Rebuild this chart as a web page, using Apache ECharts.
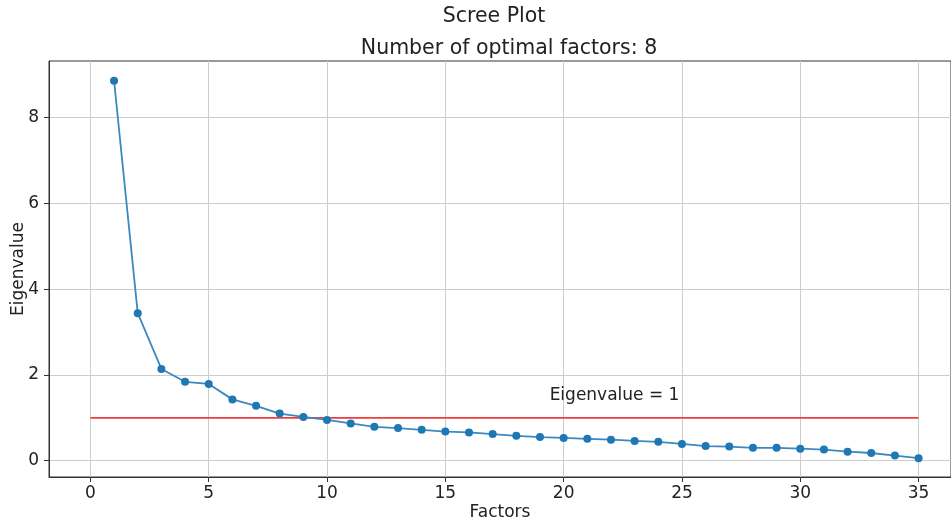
<!DOCTYPE html>
<html>
  <head>
    <meta charset="UTF-8" />
    <script src="https://cdn.jsdelivr.net/npm/echarts@6/dist/echarts.min.js"></script>
  </head>
  <body style="margin:0">
    <div id="main" style="width:951px;height:522px"></div>
    <script>
      const factors = [];
      for (let i = 1; i <= 35; i++) factors.push(i);
      const eigenvalues = [
        8.86, 3.44, 2.14, 1.84, 1.79, 1.43, 1.28, 1.10, 1.02, 0.95,
        0.87, 0.79, 0.76, 0.72, 0.68, 0.66, 0.62, 0.58, 0.55, 0.53,
        0.51, 0.49, 0.46, 0.44, 0.39, 0.34, 0.33, 0.30, 0.30, 0.28,
        0.26, 0.21, 0.18, 0.12, 0.06
      ];
      const thresholdX = [0, 35];
      const thresholdY = [1, 1];
      const xTicks = [0, 5, 10, 15, 20, 25, 30, 35];
      const yTicks = [0, 2, 4, 6, 8];

      const font = 'DejaVu Sans';
      const myChart = echarts.init(document.getElementById('main'));
      const option = {
        animation: false,
        textStyle: { fontFamily: font },
        title: [
          { text: 'Scree Plot', left: 489, top: 1, textAlign: 'center',
            textStyle: { fontFamily: font, fontSize: 20.5, fontWeight: 'normal', color: '#222' } },
          { text: 'Number of optimal factors: 8', left: 504, top: 33, textAlign: 'center',
            textStyle: { fontFamily: font, fontSize: 20.5, fontWeight: 'normal', color: '#222' } }
        ],
        grid: {
          left: 49, right: 0, top: 61, bottom: 45,
          outerBoundsMode: 'none',
          show: true, borderColor: '#333', borderWidth: 1
        },
        xAxis: {
          type: 'value',
          min: -1.75,
          max: 36.37,
          name: 'Factors',
          nameLocation: 'middle',
          nameGap: 27,
          nameMoveOverlap: false,
          nameTextStyle: { fontSize: 17, color: '#222' },
          axisLine: { onZero: false, lineStyle: { color: '#333' } },
          axisTick: { length: 5, customValues: xTicks, lineStyle: { color: '#333' } },
          axisLabel: { customValues: xTicks, fontSize: 17, color: '#222', margin: 8 },
          splitLine: { show: true, lineStyle: { color: '#cccccc' } }
        },
        yAxis: {
          type: 'value',
          min: -0.38,
          max: 9.32,
          name: 'Eigenvalue',
          nameLocation: 'middle',
          nameGap: 22,
          nameMoveOverlap: false,
          nameTextStyle: { fontSize: 17, color: '#222' },
          axisLine: { show: true, onZero: false, lineStyle: { color: '#333' } },
          axisTick: { show: true, length: 5, customValues: yTicks, lineStyle: { color: '#333' } },
          axisLabel: { customValues: yTicks, fontSize: 17, color: '#222', margin: 10 },
          splitLine: { show: true, lineStyle: { color: '#cccccc' } }
        },
        series: [
          {
            type: 'line',
            data: thresholdX.map((x, i) => [x, thresholdY[i]]),
            symbol: 'none',
            lineStyle: { color: '#f03c3c', width: 1.8 },
            z: 2,
            markPoint: {
              symbol: 'circle',
              symbolSize: 1,
              itemStyle: { opacity: 0 },
              label: { show: true, position: 'inside', formatter: 'Eigenvalue = 1', fontSize: 17, color: '#222', opacity: 1 },
              data: [{ coord: [22.15, 1.53] }]
            }
          },
          {
            type: 'line',
            data: factors.map((f, i) => [f, eigenvalues[i]]),
            symbol: 'circle',
            symbolSize: 8,
            itemStyle: { color: '#1f77b4' },
            lineStyle: { color: '#3a89c0', width: 1.8 },
            z: 3
          }
        ]
      };
      myChart.setOption(option);
    </script>
  </body>
</html>
